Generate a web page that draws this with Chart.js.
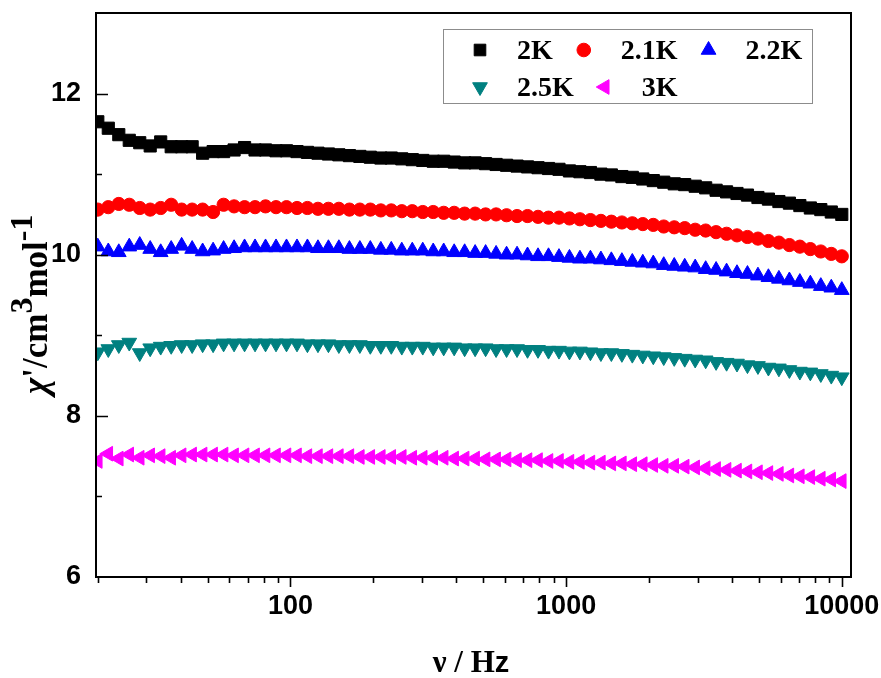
<!DOCTYPE html>
<html><head><meta charset="utf-8">
<script src="https://cdn.jsdelivr.net/npm/chart.js@4.4.1/dist/chart.umd.min.js"></script>
<style>html,body{margin:0;padding:0;background:#fff;overflow:hidden}#wrap{width:881px;height:678px}</style>
</head><body><div id="wrap"><canvas id="c" width="881" height="678"></canvas></div>
<script>
// ---- data ----
const frequencies = [20.0,21.83,23.83,26.01,28.39,30.98,33.82,36.92,40.29,43.98,48.01,52.40,57.20,62.43,68.15,74.38,81.19,88.62,96.73,105.6,
115.2,125.8,137.3,149.8,163.6,178.5,194.8,212.7,232.1,253.4,276.6,301.9,329.5,359.6,392.5,428.4,467.6,510.4,557.1,608.1,
663.7,724.4,790.7,863.1,942.0,1028,1122,1225,1337,1459,1593,1738,1897,2071,2260,2467,2693,2939,3208,3500,
3820,4167,4548,4964,5418,5914,6455,7045,7690,8393,9161,10000];

const chi2K = [11.65,11.57,11.49,11.42,11.39,11.35,11.40,11.34,11.34,11.34,11.26,11.28,11.28,11.30,11.33,11.30,11.30,11.29,11.29,11.28,
11.27,11.26,11.25,11.24,11.23,11.22,11.21,11.20,11.20,11.19,11.18,11.17,11.16,11.16,11.15,11.14,11.14,11.13,11.12,11.11,
11.10,11.09,11.08,11.07,11.06,11.04,11.03,11.02,11.00,10.99,10.97,10.96,10.94,10.92,10.90,10.88,10.87,10.85,10.83,10.80,
10.78,10.76,10.74,10.71,10.69,10.66,10.64,10.61,10.58,10.56,10.53,10.50];

const chi21K = [10.56,10.59,10.63,10.62,10.58,10.56,10.58,10.62,10.56,10.56,10.56,10.53,10.62,10.60,10.59,10.59,10.60,10.59,10.59,10.58,
10.58,10.57,10.57,10.57,10.56,10.56,10.56,10.55,10.55,10.54,10.54,10.53,10.53,10.52,10.52,10.51,10.51,10.50,10.50,10.49,
10.48,10.48,10.47,10.46,10.46,10.45,10.44,10.43,10.42,10.41,10.40,10.39,10.38,10.37,10.35,10.34,10.33,10.31,10.30,10.28,
10.26,10.24,10.22,10.20,10.17,10.15,10.12,10.10,10.07,10.04,10.01,9.98];

const chi22K = [10.10,10.04,10.03,10.10,10.12,10.07,10.03,10.07,10.11,10.07,10.04,10.05,10.07,10.08,10.09,10.09,10.09,10.09,10.09,10.09,
10.09,10.08,10.08,10.08,10.07,10.07,10.07,10.06,10.06,10.05,10.05,10.05,10.04,10.04,10.03,10.03,10.02,10.02,10.01,10.00,
10.00,9.99,9.98,9.98,9.97,9.96,9.95,9.95,9.94,9.93,9.92,9.91,9.90,9.89,9.87,9.86,9.85,9.84,9.82,9.81,
9.79,9.77,9.76,9.74,9.72,9.70,9.68,9.66,9.64,9.61,9.59,9.56];

const chi25K = [8.79,8.83,8.88,8.91,8.78,8.84,8.86,8.87,8.88,8.88,8.89,8.89,8.90,8.90,8.90,8.90,8.90,8.90,8.90,8.90,
8.89,8.89,8.89,8.88,8.88,8.88,8.87,8.87,8.87,8.86,8.86,8.86,8.85,8.85,8.85,8.84,8.84,8.84,8.83,8.83,
8.83,8.82,8.82,8.81,8.81,8.80,8.80,8.79,8.78,8.78,8.77,8.76,8.75,8.74,8.73,8.72,8.71,8.70,8.69,8.67,
8.66,8.65,8.63,8.62,8.60,8.59,8.57,8.55,8.54,8.52,8.50,8.48];

const chi3K = [7.44,7.53,7.47,7.52,7.48,7.51,7.50,7.48,7.51,7.52,7.52,7.52,7.52,7.51,7.51,7.51,7.51,7.51,7.51,7.51,
7.50,7.50,7.50,7.50,7.50,7.49,7.49,7.49,7.49,7.49,7.48,7.48,7.48,7.48,7.47,7.47,7.47,7.46,7.46,7.46,
7.45,7.45,7.45,7.44,7.44,7.43,7.43,7.42,7.42,7.41,7.41,7.40,7.40,7.39,7.38,7.38,7.37,7.36,7.35,7.34,
7.33,7.32,7.31,7.30,7.29,7.28,7.26,7.25,7.24,7.22,7.21,7.19];

const seriesLabels = ['2K', '2.1K', '2.2K', '2.5K', '3K'];
const xTickValues = [20,30,40,50,60,70,80,90,100,200,300,400,500,600,700,800,900,1000,2000,3000,4000,5000,6000,7000,8000,9000,10000];
const xLabelValues = [100, 1000, 10000];
const yLabelValues = [6, 8, 10, 12];

// ---- styles ----
const seriesValues = [chi2K, chi21K, chi22K, chi25K, chi3K];
const seriesStyles = [
  {color: '#000000', pointStyle: 'rect', radius: 8.6, rotation: 0},
  {color: '#FF0000', pointStyle: 'circle', radius: 6.6, rotation: 0},
  {color: '#0000FF', pointStyle: 'triangle', radius: 8.5, rotation: 0},
  {color: '#008080', pointStyle: 'triangle', radius: 8.5, rotation: 180},
  {color: '#FF00FF', pointStyle: 'triangle', radius: 8.5, rotation: 270}
];

const datasets = seriesValues.map((vals, i) => ({
  label: seriesLabels[i],
  data: vals.map((v, k) => ({x: frequencies[k], y: v})),
  showLine: false,
  pointStyle: seriesStyles[i].pointStyle,
  pointRadius: seriesStyles[i].radius,
  pointRotation: seriesStyles[i].rotation,
  pointBackgroundColor: seriesStyles[i].color,
  pointBorderColor: seriesStyles[i].color,
  pointBorderWidth: 1,
  backgroundColor: seriesStyles[i].color,
  borderColor: seriesStyles[i].color
}));

const decorPlugin = {
  id: 'decor',
  afterDraw(chart) {
    const ctx = chart.ctx;
    const a = chart.chartArea;
    const xs = chart.scales.x, ys = chart.scales.y;
    ctx.save();
    // frame
    ctx.strokeStyle = '#000';
    ctx.lineWidth = 2;
    ctx.strokeRect(a.left, a.top, a.right - a.left, a.bottom - a.top);
    // x ticks (outside, downward)
    ctx.lineWidth = 1.6;
    ctx.beginPath();
    xs.ticks.forEach(t => {
      const px = Math.round(xs.getPixelForValue(t.value)) + 0.5;
      const len = xLabelValues.includes(t.value) ? 10 : 6;
      ctx.moveTo(px, a.bottom); ctx.lineTo(px, a.bottom + len);
    });
    ctx.stroke();
    // y ticks (inside, rightward)
    ctx.beginPath();
    ys.ticks.forEach(t => {
      if (t.value >= 13 || t.value <= 6) return;
      const py = Math.round(ys.getPixelForValue(t.value)) + 0.5;
      const len = yLabelValues.includes(t.value) ? 12 : 6;
      ctx.moveTo(a.left, py); ctx.lineTo(a.left + len, py);
    });
    ctx.stroke();

    // x axis title
    ctx.fillStyle = '#000';
    ctx.textBaseline = 'alphabetic';
    ctx.textAlign = 'left';
    const serif = 'bold 31px "Liberation Serif", "Times New Roman", serif';
    const sans = 'bold 29px "Liberation Sans", Arial, sans-serif';
    ctx.font = serif; const w1 = ctx.measureText('\u03BD / H').width;
    ctx.font = sans; const w2 = ctx.measureText('z').width;
    let x0 = 471 - (w1 + w2) / 2;
    ctx.font = serif; ctx.fillText('\u03BD / H', x0, 672);
    ctx.font = sans; ctx.fillText('z', x0 + w1, 672);

    // y axis title (rotated)
    ctx.save();
    ctx.translate(47, 394);
    ctx.rotate(-Math.PI / 2);
    const yt = 'bold 35px "Liberation Serif", "Times New Roman", serif';
    const yti = 'italic bold 35px "Liberation Serif", "Times New Roman", serif';
    const ysup = 'bold 32px "Liberation Serif", "Times New Roman", serif';
    let cx = 0;
    const parts = [['\u03C7', yti, 0], ['\'/cm', yt, 0], ['3', ysup, -15], ['mol', yt, 0], ['-1', ysup, -15]];
    parts.forEach(p => {
      ctx.font = p[1];
      ctx.fillText(p[0], cx, p[2]);
      cx += ctx.measureText(p[0]).width;
    });
    ctx.restore();

    // legend
    ctx.strokeStyle = '#8c8c8c';
    ctx.lineWidth = 1;
    ctx.strokeRect(443.5, 29.5, 369, 74);
    const rows = [[0, 1, 2], [3, 4]];
    const rowY = [50, 87];
    const baseY = [59, 96];
    ctx.font = 'bold 28px "Liberation Serif", "Times New Roman", serif';
    rows.forEach((row, r) => {
      let mx = 480;
      row.forEach(i => {
        const ds = chart.data.datasets[i];
        ctx.fillStyle = ds.pointBackgroundColor;
        ctx.strokeStyle = ds.pointBorderColor;
        ctx.lineWidth = 1;
        Chart.helpers.drawPoint(ctx, {
          pointStyle: ds.pointStyle,
          radius: ds.pointStyle === 'rect' ? 8.2 : (ds.pointStyle === 'circle' ? 6.8 : 8.5),
          rotation: ds.pointRotation,
          borderWidth: 1
        }, mx, rowY[r]);
        ctx.fillStyle = '#000';
        const tx = mx + 37;
        ctx.fillText(ds.label, tx, baseY[r]);
        mx = tx + ctx.measureText(ds.label).width + 31;
      });
    });
    ctx.restore();
  }
};

new Chart(document.getElementById('c'), {
  type: 'scatter',
  data: {datasets},
  options: {
    responsive: false,
    animation: false,
    devicePixelRatio: 1,
    layout: {padding: {top: 13, right: 30, left: 0, bottom: 0}},
    plugins: {legend: {display: false}, tooltip: {enabled: false}},
    scales: {
      x: {
        type: 'logarithmic',
        min: 19.7, max: 10800,
        grid: {display: false},
        border: {display: false},
        afterBuildTicks: s => { s.ticks = xTickValues.map(v => ({value: v})); },
        afterFit: s => { s.height = 101; s.paddingLeft = 0; s.paddingRight = 0; },
        ticks: {
          autoSkip: false, maxRotation: 0, padding: 5, color: '#000',
          font: {family: '"Liberation Sans", Arial, sans-serif', size: 27, weight: 'bold'},
          callback: v => xLabelValues.includes(v) ? String(v) : ''
        }
      },
      y: {
        type: 'linear',
        min: 6, max: 13,
        grid: {display: false},
        border: {display: false},
        afterFit: s => { s.width = 96; s.paddingTop = 0; s.paddingBottom = 0; },
        ticks: {
          stepSize: 1, padding: 7, color: '#000',
          font: {family: '"Liberation Sans", Arial, sans-serif', size: 27, weight: 'bold'},
          callback: v => yLabelValues.includes(v) ? String(v) : ''
        }
      }
    }
  },
  plugins: [decorPlugin]
});
</script>
</body></html>
